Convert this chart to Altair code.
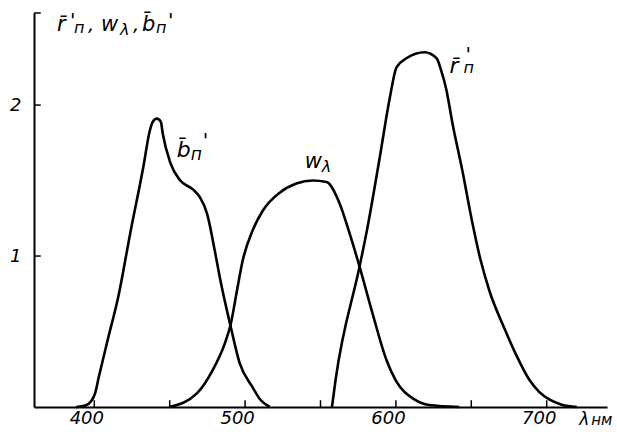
import altair as alt
import pandas as pd

# Curve r̄'п (long-wave primary)
r_nm = [557.6, 560, 575.9, 580.8, 589.4, 596, 600.4, 607, 619, 627, 630, 633.5,
        637.5, 644, 650.7, 656, 662, 672, 680, 688.5, 695, 701.7, 710, 720]
r_val = [0, 0.18, 0.93, 1.17, 1.66, 2.05, 2.25, 2.31, 2.35, 2.31, 2.23, 2.10,
         1.88, 1.57, 1.22, 0.98, 0.77, 0.52, 0.34, 0.18, 0.10, 0.05, 0.015, 0]

# Curve w_λ (middle primary)
w_nm = [450, 468, 478.5, 486.5, 490.5, 494.4, 498.4, 505, 511.7, 523, 534, 544.8,
        554, 562.6, 569.3, 575.9, 584.5, 593.8, 599.7, 612.3, 622, 642]
w_val = [0, 0.09, 0.245, 0.42, 0.55, 0.76, 0.97, 1.17, 1.30, 1.42, 1.48, 1.50,
         1.49, 1.35, 1.15, 0.93, 0.62, 0.31, 0.18, 0.05, 0.013, 0]

# Curve b̄п' (short-wave primary)
b_nm = [388, 394, 398, 400.5, 403, 409, 415.9, 423.8, 432.5, 436.8, 438.8, 441.5,
        444.1, 445.4, 450.3, 457, 465.6, 470, 474.8, 480, 483.2, 490.5, 496.4,
        505, 510, 516.3]
b_val = [0, 0.01, 0.04, 0.09, 0.2, 0.45, 0.73, 1.15, 1.59, 1.83, 1.89, 1.91,
         1.89, 1.81, 1.62, 1.50, 1.44, 1.39, 1.28, 1.03, 0.86, 0.53, 0.29, 0.13,
         0.05, 0]

x_ticks = [400, 450, 500, 550, 600, 650, 700]
x_labels = [400, 500, 600, 700]
y_ticks = [1, 2, 2.61]
y_labels = [1, 2]

X_MIN, X_MAX = 360, 740
Y_MIN, Y_MAX = 0, 2.61
FONT = "DejaVu Sans"

curves = pd.concat([
    pd.DataFrame({"nm": r_nm, "v": r_val, "series": "r"}),
    pd.DataFrame({"nm": w_nm, "v": w_val, "series": "w"}),
    pd.DataFrame({"nm": b_nm, "v": b_val, "series": "b"}),
])

xs = alt.Scale(domain=[X_MIN, X_MAX], nice=False, zero=False)
ys = alt.Scale(domain=[Y_MIN, Y_MAX], nice=False, zero=False)

base_axis = dict(
    grid=False, ticks=False, tickSize=0, title=None,
    domainColor="black", domainWidth=2,
    labelFont=FONT, labelFontStyle="italic", labelFontSize=18, labelColor="black",
)

lines = alt.Chart(curves).mark_line(
    interpolate="monotone", color="black", strokeWidth=2.6
).encode(
    x=alt.X("nm:Q", scale=xs,
            axis=alt.Axis(values=x_labels, format="d", labelPadding=2, labelOffset=-8,
                          **base_axis)),
    y=alt.Y("v:Q", scale=ys,
            axis=alt.Axis(values=y_labels, format="d", labelPadding=13, **base_axis)),
    detail="series:N",
)

# inward tick marks on both axes
xt = alt.Chart(pd.DataFrame({"nm": x_ticks, "y0": 0, "y1": 0.045})).mark_rule(
    color="black", strokeWidth=1.5
).encode(x=alt.X("nm:Q", scale=xs), y=alt.Y("y0:Q", scale=ys), y2="y1:Q")

yt = alt.Chart(pd.DataFrame({"v": y_ticks, "x0": X_MIN, "x1": X_MIN + 4.5})).mark_rule(
    color="black", strokeWidth=1.5
).encode(y=alt.Y("v:Q", scale=ys), x=alt.X("x0:Q", scale=xs), x2="x1:Q")


def label(nm, v, pieces):
    """Compose a label from glyph pieces (text, dx, dy, size) anchored at (nm, v)."""
    df = pd.DataFrame({"nm": [nm], "v": [v]})
    layers = []
    for text, dx, dy, size in pieces:
        layers.append(
            alt.Chart(df).mark_text(
                text=text, dx=dx, dy=dy, fontSize=size, font=FONT,
                fontStyle="italic", align="left", baseline="alphabetic",
                color="black",
            ).encode(x=alt.X("nm:Q", scale=xs), y=alt.Y("v:Q", scale=ys))
        )
    return layers


R_BAR = "r\u0304"
B_BAR = "b\u0304"
PRIME = "'"

texts = []
# axis heading
texts += label(375.2, 2.49, [
    (R_BAR, 0, 0, 21), (PRIME, 13, -4, 20), ("п", 17, 2, 16), (",", 31, 0, 20),
    ("w", 44, 0, 21), ("λ", 63, 4, 16), (",", 76, 0, 20),
    (B_BAR, 85, 0, 21), ("п", 99, 2, 16), (PRIME, 111, -4, 20),
])
# curve labels
texts += label(454.7, 1.656, [(B_BAR, 0, 0, 22), ("п", 14, 3, 17), (PRIME, 26, -10, 20)])
texts += label(539.5, 1.583, [("w", 0, 0, 21), ("λ", 17, 4, 16)])
texts += label(635.5, 2.212, [(R_BAR, 0, 0, 22), (PRIME, 16, -12, 20), ("п", 14, 0, 16)])
# x-axis unit
texts += label(721.6, -0.119, [("λ", 0, 0, 17), ("нм", 12, 0, 15)])

chart = alt.layer(lines, xt, yt, *texts).properties(
    width=573, height=394,
    autosize=alt.AutoSizeParams(type="none"),
    padding={"left": 34, "top": 13, "right": 10, "bottom": 29},
    background="white",
).configure_view(stroke=None)

chart.save("out.html", embed_options={"renderer": "svg", "actions": False})
